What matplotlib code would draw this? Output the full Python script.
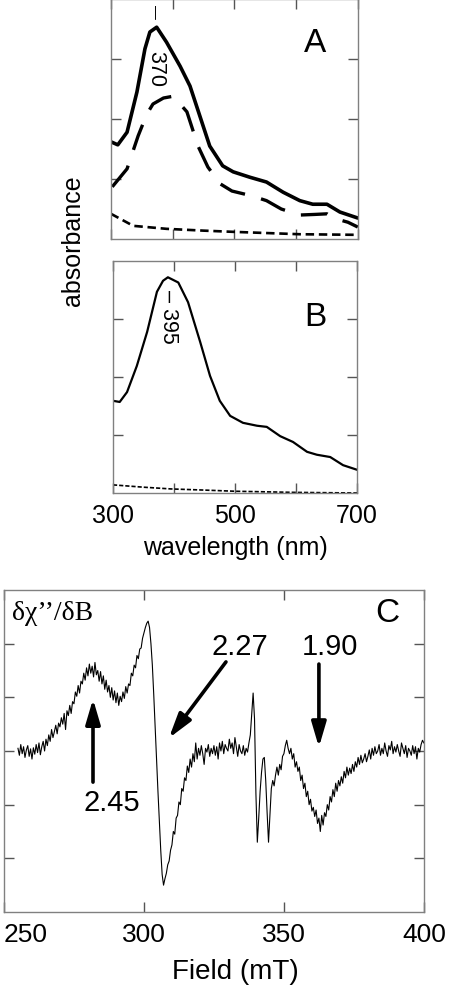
import numpy as np
import matplotlib
matplotlib.use('Agg')
import matplotlib.pyplot as plt

plt.rcParams['font.family'] = ['Liberation Sans', 'DejaVu Sans']

# panel A: optical spectra (absorbance, arbitrary units)
wl_a_solid = [300, 311, 326, 342, 355, 363, 374, 390, 412, 428, 444, 460, 481, 498,
              525, 552, 579, 606, 627, 650, 671, 700]
abs_a_solid = [1.62, 1.57, 1.78, 2.45, 3.17, 3.45, 3.53, 3.28, 2.88, 2.55, 2.05, 1.55,
               1.22, 1.12, 1.03, 0.95, 0.78, 0.64, 0.58, 0.58, 0.45, 0.35]
wl_a_dash = [302, 326, 344, 358, 368, 385, 401, 423, 441, 457, 477, 496, 528, 552,
             576, 606, 630, 650, 660, 684, 700]
abs_a_dash = [0.87, 1.17, 1.72, 2.08, 2.25, 2.35, 2.38, 2.12, 1.55, 1.20, 0.92, 0.80,
              0.72, 0.64, 0.50, 0.40, 0.41, 0.42, 0.35, 0.28, 0.20]
wl_a_base = [300, 336, 390, 450, 498, 606, 700]
abs_a_base = [0.42, 0.22, 0.17, 0.14, 0.12, 0.08, 0.07]

# panel B
wl_b_solid = [300, 311, 323, 339, 356, 372, 382, 390, 407, 423, 443, 459, 475, 492,
              513, 536, 552, 574, 595, 618, 634, 656, 677, 700]
abs_b_solid = [1.59, 1.57, 1.74, 2.19, 2.78, 3.47, 3.66, 3.72, 3.63, 3.29, 2.60, 2.02,
               1.59, 1.33, 1.21, 1.16, 1.14, 0.98, 0.88, 0.71, 0.66, 0.62, 0.48, 0.40]
wl_b_base = [300, 350, 395, 450, 500, 600, 700]
abs_b_base = [0.14, 0.10, 0.07, 0.05, 0.03, 0.01, 0.0]

# panel C: EPR derivative spectrum, one value per 0.5 mT from 255 to 400 mT
field = np.arange(255, 400.25, 0.5)
epr = [
    3.05, 2.92, 3.12, 2.95, 3.08, 2.88, 3.02, 3.10, 2.90, 3.04,
    2.85, 3.06, 2.94, 3.12, 2.97, 3.15, 2.93, 3.08, 3.18, 3.00,
    3.22, 3.10, 3.30, 3.18, 3.40, 3.25, 3.36, 3.48, 3.32, 3.52,
    3.45, 3.62, 3.50, 3.70, 3.40, 3.75, 3.66, 3.85, 3.70, 3.92,
    3.88, 4.10, 4.02, 4.22, 4.08, 4.30, 4.25, 4.45, 4.32, 4.55,
    4.40, 4.62, 4.45, 4.58, 4.38, 4.65, 4.42, 4.50, 4.30, 4.48,
    4.25, 4.40, 4.15, 4.32, 4.10, 4.22, 4.00, 4.18, 3.95, 4.12,
    3.90, 4.08, 3.85, 4.02, 3.92, 4.10, 3.98, 4.20, 4.08, 4.25,
    4.22, 4.45, 4.40, 4.60, 4.55, 4.78, 4.72, 4.90, 4.92, 5.10,
    5.20, 5.30, 5.38, 5.42, 5.30, 5.00, 4.60, 4.05, 3.45, 2.85,
    2.25, 1.70, 1.15, 0.70, 0.50, 0.62, 0.72, 0.88, 0.95, 1.15,
    1.25, 1.50, 1.45, 1.75, 1.80, 2.05, 2.00, 2.30, 2.25, 2.50,
    2.45, 2.72, 2.60, 2.85, 2.70, 2.95, 2.80, 3.15, 2.85, 3.05,
    2.92, 3.10, 2.95, 2.75, 3.05, 2.98, 3.12, 2.90, 3.05, 2.95,
    3.10, 2.92, 3.08, 2.85, 3.15, 3.00, 3.18, 2.95, 3.12, 3.05,
    3.00, 3.22, 3.05, 3.15, 2.95, 3.25, 3.08, 2.90, 3.12, 3.00,
    2.95, 3.10, 2.92, 3.05, 2.98, 3.15, 3.30, 3.70, 4.08, 3.60,
    2.20, 1.30, 1.75, 2.25, 2.60, 2.85, 2.88, 2.45, 1.85, 1.30,
    1.80, 2.30, 2.45, 2.35, 2.55, 2.70, 2.55, 2.75, 2.65, 2.90,
    2.95, 3.10, 3.20, 3.05, 2.95, 3.05, 2.85, 2.95, 2.70, 2.80,
    2.62, 2.70, 2.45, 2.55, 2.30, 2.40, 2.15, 2.25, 2.00, 2.10,
    1.88, 1.95, 1.78, 1.90, 1.65, 1.75, 1.50, 1.80, 1.62, 1.85,
    1.78, 2.00, 1.90, 2.15, 2.05, 2.28, 2.15, 2.40, 2.25, 2.45,
    2.35, 2.52, 2.40, 2.62, 2.50, 2.70, 2.55, 2.68, 2.58, 2.75,
    2.62, 2.80, 2.70, 2.88, 2.75, 2.92, 2.78, 2.85, 2.95, 2.80,
    2.90, 3.02, 2.85, 3.05, 2.92, 3.08, 2.95, 3.00, 3.12, 2.92,
    3.05, 2.95, 3.15, 3.00, 2.90, 3.10, 3.02, 3.18, 2.95, 3.08,
    2.98, 3.12, 3.00, 2.90, 3.15, 3.05, 2.95, 3.10, 2.88, 3.05,
    3.00, 2.92, 3.10, 2.95, 3.08, 2.85, 3.05, 2.98, 3.12, 3.20,
    3.15,
]

# g-value markers: label, arrow tail, arrow tip, label position
g_labels = ['2.45', '2.27', '1.90']
g_tails = [(281.8, 2.42), (329.3, 4.66), (362.5, 4.62)]
g_tips = [(281.8, 3.97), (308.9, 3.24), (362.5, 3.07)]
g_text = [(288.6, 2.05), (334.3, 4.95), (366.4, 4.95)]

spine_col = '#808080'
fig = plt.figure(figsize=(4.52, 9.87), dpi=100)


def style_axes(ax, size):
    for s in ax.spines.values():
        s.set_color(spine_col)
        s.set_linewidth(1.0)
    ax.tick_params(direction='in', length=7, width=1, color='#555555',
                   top=True, right=True, labelsize=size, pad=7)
    ax.set_yticklabels([])


ax_a = fig.add_axes([0.2456, 0.7568, 0.546, 0.2432])
ax_a.plot(wl_a_solid, abs_a_solid, color='black', lw=2.6, solid_capstyle='round')
ax_a.plot(wl_a_dash, abs_a_dash, color='black', lw=2.4, linestyle=(0, (8, 5)))
ax_a.plot(wl_a_base, abs_a_base, color='black', lw=1.9, linestyle=(0, (3.2, 1.8)))
ax_a.set_xlim(300, 700)
ax_a.set_ylim(0, 4)
ax_a.set_xticks([300, 400, 500, 600, 700])
ax_a.set_yticks([1, 2, 3])
style_axes(ax_a, 18)
ax_a.set_xticklabels([])
ax_a.text(0.826, 0.82, 'A', transform=ax_a.transAxes, fontsize=24, ha='center', va='center')
ax_a.text(371, 3.8, '\u2014', rotation=270, fontsize=10, ha='center', va='center')
ax_a.text(373, 2.85, '370', rotation=270, fontsize=15.5, ha='center', va='center')

ax_b = fig.add_axes([0.25, 0.4995, 0.54, 0.235])
ax_b.plot(wl_b_solid, abs_b_solid, color='black', lw=1.6)
ax_b.plot(wl_b_base, abs_b_base, color='black', lw=1.2, linestyle=(0, (2.5, 1.2)))
ax_b.set_xlim(300, 700)
ax_b.set_ylim(0, 4)
ax_b.set_xticks([300, 400, 500, 600, 700])
ax_b.set_yticks([1, 2, 3])
style_axes(ax_b, 18)
ax_b.set_xticklabels(['300', '', '500', '', '700'])
ax_b.text(0.828, 0.76, 'B', transform=ax_b.transAxes, fontsize=24, ha='center', va='center')
ax_b.text(391, 3.05, '\u2013 395', rotation=270, fontsize=15.5, ha='center', va='center')

fig.text(73 / 452, 1 - 241 / 987, 'absorbance', rotation=90, fontsize=18,
         ha='center', va='center')
fig.text(235 / 452, 1 - 548 / 987, 'wavelength (nm)', fontsize=18, ha='center', va='center')

ax_c = fig.add_axes([0.0088, 0.075, 0.929, 0.3262])
ax_c.plot(field, epr, color='black', lw=0.8)
ax_c.set_xlim(250, 400)
ax_c.set_ylim(0, 6)
ax_c.set_xticks([250, 300, 350, 400])
ax_c.set_yticks([1, 2, 3, 4, 5])
style_axes(ax_c, 19)
ax_c.get_xticklabels()[0].set_horizontalalignment('left')
ax_c.text(0.914, 0.93, 'C', transform=ax_c.transAxes, fontsize=24, ha='center', va='center')
ax_c.text(0.115, 0.93, 'δχ\u2019\u2019/δB', transform=ax_c.transAxes, fontsize=20,
          ha='center', va='center', family=['Liberation Serif', 'DejaVu Serif'])

for lab, tail, tip, pos in zip(g_labels, g_tails, g_tips, g_text):
    ax_c.annotate('', xy=tip, xytext=tail,
                  arrowprops=dict(arrowstyle='-|>,head_length=0.75,head_width=0.22',
                                  mutation_scale=20, lw=2.6, color='black',
                                  shrinkA=0, shrinkB=0))
    ax_c.text(pos[0], pos[1], lab, fontsize=21, ha='center', va='center')

fig.text(235 / 452, 1 - 972 / 987, 'Field (mT)', fontsize=20, ha='center', va='center')

fig.savefig('out.png', dpi=100)
